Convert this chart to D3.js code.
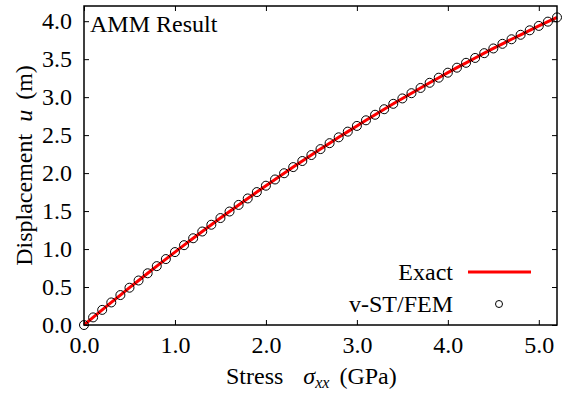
<!DOCTYPE html>
<html>
<head>
    <script src="https://cdn.jsdelivr.net/npm/d3@7"></script>
    <style>
        body { margin: 0; background: #fff; }
        svg, svg text { font-family: "Liberation Serif", "Times New Roman", Times, Tinos, "DejaVu Serif", serif; }
    </style>
</head>
<body>
<div id="chart"></div>
<script>
    // stress sigma_xx (GPa)
    var stress = [0.0, 0.1, 0.2, 0.3, 0.4, 0.5, 0.6, 0.7, 0.8, 0.9,
                  1.0, 1.1, 1.2, 1.3, 1.4, 1.5, 1.6, 1.7, 1.8, 1.9,
                  2.0, 2.1, 2.2, 2.3, 2.4, 2.5, 2.6, 2.7, 2.8, 2.9,
                  3.0, 3.1, 3.2, 3.3, 3.4, 3.5, 3.6, 3.7, 3.8, 3.9,
                  4.0, 4.1, 4.2, 4.3, 4.4, 4.5, 4.6, 4.7, 4.8, 4.9,
                  5.0, 5.1, 5.2];
    // displacement u (m)
    var disp = [0.000, 0.100, 0.199, 0.297, 0.394, 0.491, 0.586, 0.681, 0.775, 0.868,
                0.960, 1.051, 1.142, 1.231, 1.320, 1.408, 1.494, 1.581, 1.666, 1.750,
                1.834, 1.916, 1.998, 2.079, 2.159, 2.238, 2.316, 2.394, 2.471, 2.546,
                2.621, 2.695, 2.768, 2.841, 2.912, 2.983, 3.052, 3.121, 3.189, 3.256,
                3.322, 3.388, 3.452, 3.516, 3.579, 3.641, 3.702, 3.762, 3.821, 3.880,
                3.938, 3.994, 4.050];
    var xTicks = [0, 1, 2, 3, 4, 5];
    var yTicks = [0, 0.5, 1, 1.5, 2, 2.5, 3, 3.5, 4];

    var data = stress.map(function (s, i) { return {x: s, y: disp[i]}; });

    var W = 562, H = 394;
    var margin = {top: 6, right: 5, bottom: 69, left: 84};
    var width = W - margin.left - margin.right,
        height = H - margin.top - margin.bottom;
    var serif = "\"Liberation Serif\", \"Times New Roman\", Times, Tinos, \"DejaVu Serif\", serif";
    var fs = 24;

    var svg = d3.select("#chart").append("svg")
        .attr("width", W).attr("height", H)
        .attr("font-family", serif);
    var g = svg.append("g")
        .attr("transform", "translate(" + margin.left + "," + margin.top + ")");

    var x = d3.scaleLinear().domain([0, 5.2]).range([0, width]);
    var y = d3.scaleLinear().domain([0, 4.2]).range([height, 0]);

    // axes with inward ticks
    var fmt = d3.format(".1f");
    function styleAxis(sel) {
        sel.attr("font-family", serif).attr("font-size", fs);
        sel.select(".domain").remove();
        sel.selectAll("line").attr("stroke", "#000").attr("stroke-width", 1);
        sel.selectAll("text").attr("fill", "#000");
    }
    g.append("g").attr("transform", "translate(0," + height + ")")
        .call(d3.axisBottom(x).tickValues(xTicks).tickFormat(fmt).tickSizeInner(-5).tickSizeOuter(0).tickPadding(11))
        .call(styleAxis);
    g.append("g")
        .call(d3.axisTop(x).tickValues(xTicks).tickFormat("").tickSizeInner(-5).tickSizeOuter(0))
        .call(styleAxis);
    g.append("g")
        .call(d3.axisLeft(y).tickValues(yTicks).tickFormat(fmt).tickSizeInner(-5).tickSizeOuter(0).tickPadding(12))
        .call(styleAxis);
    g.append("g").attr("transform", "translate(" + width + ",0)")
        .call(d3.axisRight(y).tickValues(yTicks).tickFormat("").tickSizeInner(-5).tickSizeOuter(0))
        .call(styleAxis);

    // exact curve
    var line = d3.line().x(function (d) { return x(d.x); }).y(function (d) { return y(d.y); });
    g.append("path").datum(data)
        .attr("d", line)
        .attr("fill", "none")
        .attr("stroke", "#ff0000")
        .attr("stroke-width", 3);

    // v-ST/FEM points
    g.selectAll("circle.pt").data(data).enter().append("circle")
        .attr("class", "pt")
        .attr("cx", function (d) { return x(d.x); })
        .attr("cy", function (d) { return y(d.y); })
        .attr("r", 4.5)
        .attr("fill", "none")
        .attr("stroke", "#000")
        .attr("stroke-width", 1);

    // frame
    g.append("rect").attr("width", width).attr("height", height)
        .attr("fill", "none").attr("stroke", "#000").attr("stroke-width", 1.5);

    // label in corner
    g.append("text").attr("x", 6).attr("y", 26)
        .attr("font-size", fs).text("AMM Result");

    // legend
    var leg = g.append("g").attr("font-size", fs);
    leg.append("text").attr("x", 369).attr("y", 274).attr("text-anchor", "end").text("Exact");
    leg.append("line").attr("x1", 384).attr("x2", 447).attr("y1", 266).attr("y2", 266)
        .attr("stroke", "#ff0000").attr("stroke-width", 3);
    leg.append("text").attr("x", 369).attr("y", 306).attr("text-anchor", "end").text("v-ST/FEM");
    leg.append("circle").attr("cx", 415).attr("cy", 298).attr("r", 3.5)
        .attr("fill", "none").attr("stroke", "#000").attr("stroke-width", 1);

    // axis titles
    var xt = svg.append("text").attr("x", 226).attr("y", 384).attr("font-size", fs);
    xt.append("tspan").text("Stress");
    xt.append("tspan").attr("dx", 20).attr("font-style", "italic").text("σ");
    xt.append("tspan").attr("font-style", "italic").attr("font-size", 16).attr("dy", 4).text("xx");
    xt.append("tspan").attr("dy", -4).attr("dx", 10).text("(GPa)");

    var yt = svg.append("text")
        .attr("transform", "translate(32," + (margin.top + height / 2) + ") rotate(-90)")
        .attr("text-anchor", "middle").attr("font-size", fs);
    yt.append("tspan").text("Displacement");
    yt.append("tspan").attr("dx", 12).attr("font-style", "italic").text("u");
    yt.append("tspan").attr("dx", 10).text("(m)");
</script>
</body>
</html>
